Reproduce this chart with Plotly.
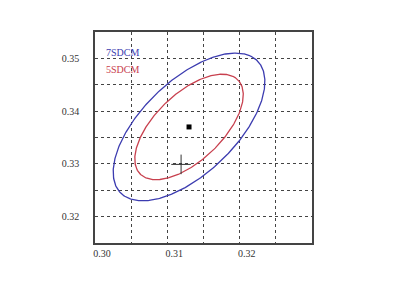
import numpy as np
import plotly.graph_objects as go

# Ellipse parameters: center, semi-major, semi-minor, tilt (deg)
ellipse_names = ["7SDCM", "5SDCM"]
ellipse_a = [0.0159, 0.01135]
ellipse_b = [0.0073, 0.00524]
ellipse_theta = [57.8, 57.8]
ellipse_colors = ["#3c3cb0", "#c8404e"]
center = [0.3130, 0.3370]
cross_point = [0.3119, 0.3299]

x_tickvals = [0.30, 0.305, 0.31, 0.315, 0.32, 0.325]
x_ticktext = ["0.30", "", "0.31", "", "0.32", ""]
y_tickvals = [0.32, 0.325, 0.33, 0.335, 0.34, 0.345, 0.35]
y_ticktext = ["0.32", "", "0.33", "", "0.34", "", "0.35"]

fig = go.Figure()
t = np.linspace(0, 2 * np.pi, 400)
for name, a, b, th, col in zip(ellipse_names, ellipse_a, ellipse_b, ellipse_theta, ellipse_colors):
    r = np.deg2rad(th)
    xs = center[0] + a * np.cos(t) * np.cos(r) - b * np.sin(t) * np.sin(r)
    ys = center[1] + a * np.cos(t) * np.sin(r) + b * np.sin(t) * np.cos(r)
    fig.add_trace(go.Scatter(x=xs, y=ys, mode="lines", line=dict(color=col, width=1.3),
                             name=name, showlegend=False, hoverinfo="skip"))

fig.add_trace(go.Scatter(x=[center[0]], y=[center[1]], mode="markers",
                         marker=dict(symbol="square", size=5, color="black"), showlegend=False))
fig.add_trace(go.Scatter(x=[cross_point[0]], y=[cross_point[1]], mode="markers",
                         marker=dict(symbol="cross-thin", size=14, line=dict(color="#333333", width=1)),
                         showlegend=False))

label_y = [0.3511, 0.3478]
for name, col, ly in zip(ellipse_names, ellipse_colors, label_y):
    fig.add_annotation(x=0.3013, y=ly, text=name, showarrow=False, xanchor="left",
                       font=dict(family="Liberation Serif", size=10, color=col))

axis_common = dict(showgrid=True, gridcolor="#444444", griddash="dot", gridwidth=1,
                   showline=True, linecolor="#444444", linewidth=1.5, mirror=True,
                   ticks="", zeroline=False,
                   tickfont=dict(family="Liberation Serif", size=10, color="#333333"))

fig.update_xaxes(range=[0.30, 0.33], tickmode="array", tickvals=x_tickvals, ticktext=x_ticktext,
                 ticklabelshift=7, **axis_common)
fig.update_yaxes(range=[0.315, 0.355], tickmode="array", tickvals=y_tickvals, ticktext=y_ticktext,
                 ticklabelstandoff=12, **axis_common)

fig.update_layout(width=416, height=301, margin=dict(l=95, r=104, t=32, b=58),
                  paper_bgcolor="white", plot_bgcolor="white", showlegend=False)
fig.write_html("out.html")
